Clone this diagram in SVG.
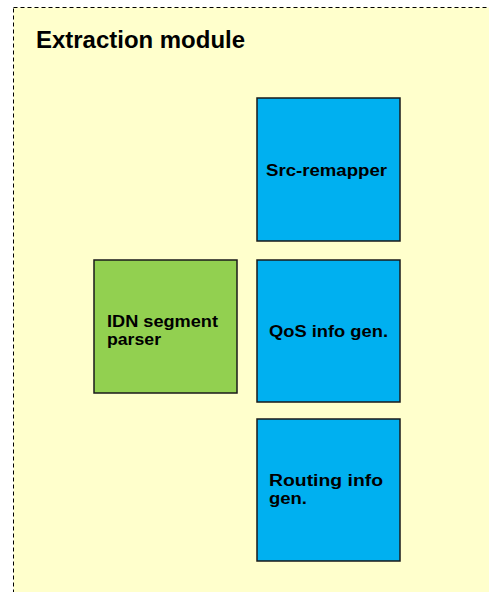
<svg xmlns="http://www.w3.org/2000/svg" width="489" height="592" viewBox="0 0 489 592">
<style>
.box{stroke:#1a1a1a;stroke-width:1.5}
.blue{fill:#00B0F0}
.green{fill:#92D050}
.lbl{font-family:"Liberation Sans",Arial,sans-serif;font-weight:bold;font-size:17px;fill:#000}
.lbl2{font-family:"Liberation Sans",Arial,sans-serif;font-weight:bold;font-size:16px;fill:#000}
</style>
<g id="module">
<rect x="13.5" y="7.5" width="480" height="590" fill="#FFFFCC" stroke="#000" stroke-width="1" stroke-dasharray="4,3"/>
<text x="36" y="48" font-family="Liberation Sans,Arial,sans-serif" font-weight="bold" font-size="24" fill="#000" textLength="209" lengthAdjust="spacingAndGlyphs">Extraction module</text>
</g>
<g id="src-remapper">
<rect class="box blue" x="257" y="98" width="143" height="143"/>
<text class="lbl" x="266" y="176" textLength="121" lengthAdjust="spacingAndGlyphs">Src-remapper</text>
</g>
<g id="qos">
<rect class="box blue" x="257" y="260" width="143" height="142"/>
<text class="lbl" x="269" y="337" textLength="119" lengthAdjust="spacingAndGlyphs">QoS info gen.</text>
</g>
<g id="routing">
<rect class="box blue" x="257" y="419" width="143" height="142"/>
<text class="lbl2" x="269" y="486" textLength="114" lengthAdjust="spacingAndGlyphs">Routing  info</text>
<text class="lbl2" x="269" y="504" textLength="38" lengthAdjust="spacingAndGlyphs">gen.</text>
</g>
<g id="idn">
<rect class="box green" x="94" y="260" width="143" height="133"/>
<text class="lbl2" x="107" y="327" textLength="111" lengthAdjust="spacingAndGlyphs">IDN segment</text>
<text class="lbl2" x="107" y="345" textLength="54" lengthAdjust="spacingAndGlyphs">parser</text>
</g>
<g id="connectors"/>
</svg>
